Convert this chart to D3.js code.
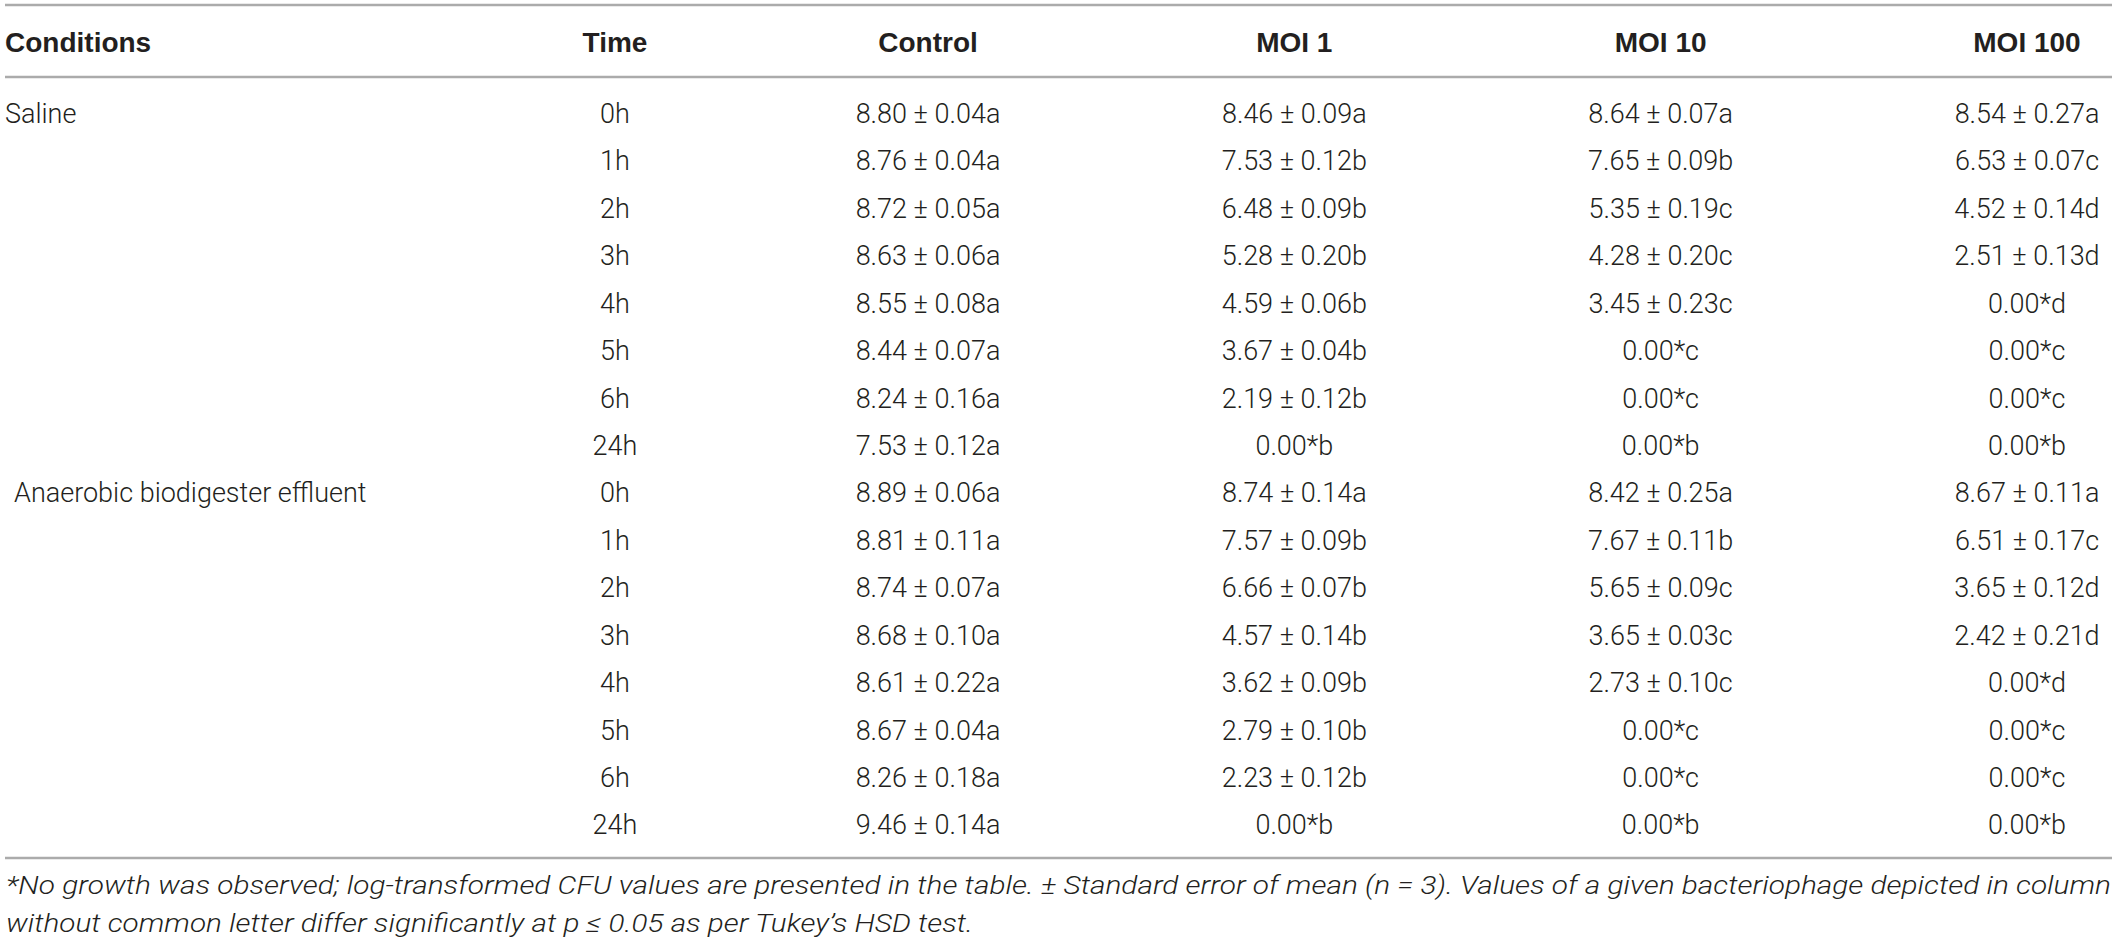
<!DOCTYPE html>
<html>
<head>
<meta charset="utf-8">
<script src="https://cdn.jsdelivr.net/npm/d3@7"></script>
<style>
  body { margin: 0; background: #fff; }
  text { fill: #231f20; }
</style>
</head>
<body>
<script>
// table content
var headers = ["Conditions", "Time", "Control", "MOI 1", "MOI 10", "MOI 100"];
var conditions = ["Saline", "Anaerobic biodigester effluent"];
var times = ["0h", "1h", "2h", "3h", "4h", "5h", "6h", "24h"];

// log CFU means, standard errors (null = no growth) and Tukey letters, saline rows then effluent rows
var controlMean = [8.80, 8.76, 8.72, 8.63, 8.55, 8.44, 8.24, 7.53, 8.89, 8.81, 8.74, 8.68, 8.61, 8.67, 8.26, 9.46];
var controlSE   = [0.04, 0.04, 0.05, 0.06, 0.08, 0.07, 0.16, 0.12, 0.06, 0.11, 0.07, 0.10, 0.22, 0.04, 0.18, 0.14];
var controlLetter = "aaaaaaaaaaaaaaaa";

var moi1Mean = [8.46, 7.53, 6.48, 5.28, 4.59, 3.67, 2.19, 0.00, 8.74, 7.57, 6.66, 4.57, 3.62, 2.79, 2.23, 0.00];
var moi1SE   = [0.09, 0.12, 0.09, 0.20, 0.06, 0.04, 0.12, null, 0.14, 0.09, 0.07, 0.14, 0.09, 0.10, 0.12, null];
var moi1Letter = "abbbbbbbabbbbbbb";

var moi10Mean = [8.64, 7.65, 5.35, 4.28, 3.45, 0.00, 0.00, 0.00, 8.42, 7.67, 5.65, 3.65, 2.73, 0.00, 0.00, 0.00];
var moi10SE   = [0.07, 0.09, 0.19, 0.20, 0.23, null, null, null, 0.25, 0.11, 0.09, 0.03, 0.10, null, null, null];
var moi10Letter = "abcccccbabcccccb";

var moi100Mean = [8.54, 6.53, 4.52, 2.51, 0.00, 0.00, 0.00, 0.00, 8.67, 6.51, 3.65, 2.42, 0.00, 0.00, 0.00, 0.00];
var moi100SE   = [0.27, 0.07, 0.14, 0.13, null, null, null, null, 0.11, 0.17, 0.12, 0.21, null, null, null, null];
var moi100Letter = "acdddccbacdddccb";

var footnotes = [
  "*No growth was observed; log-transformed CFU values are presented in the table. \u00b1 Standard error of mean (n = 3). Values of a given bacteriophage depicted in column",
  "without common letter differ significantly at p \u2264 0.05 as per Tukey\u2019s HSD test."
];

var width = 2117, height = 944;
var fontBody = "Roboto, 'Liberation Sans', sans-serif";
var fontHead = "'Liberation Sans', Arial, sans-serif";

var svg = d3.select("body")
    .append("svg")
    .attr("width", width)
    .attr("height", height)
    .style("display", "block");

var fmt = d3.format(".2f");
function cell(mean, se, letter) {
  return fmt(mean) + (se == null ? "*" : " \u00b1 " + fmt(se)) + letter;
}

var columns = [
  {mean: controlMean, se: controlSE, letter: controlLetter},
  {mean: moi1Mean, se: moi1SE, letter: moi1Letter},
  {mean: moi10Mean, se: moi10SE, letter: moi10Letter},
  {mean: moi100Mean, se: moi100SE, letter: moi100Letter}
];

var rows = [];
conditions.forEach(function(c, ci) {
  times.forEach(function(t, ti) {
    var i = ci * times.length + ti;
    rows.push({
      condition: ti === 0 ? c : "",
      indent: ci,
      time: t,
      cells: columns.map(function(col) { return cell(col.mean[i], col.se[i], col.letter[i]); })
    });
  });
});

// column and row positions
var x = d3.scalePoint()
    .domain(headers.slice(2))
    .range([928, 2027]);
var timeX = 615;

var y = d3.scalePoint()
    .domain(d3.range(rows.length))
    .range([113.5, 825]);

// rules
[5, 77, 858].forEach(function(ly) {
  svg.append("line")
      .attr("x1", 5)
      .attr("x2", 2112)
      .attr("y1", ly)
      .attr("y2", ly)
      .attr("stroke", "#ababab")
      .attr("stroke-width", 2.5);
});

// header
var head = svg.append("g")
    .attr("font-family", fontHead)
    .attr("font-weight", "bold")
    .attr("font-size", "28px");

head.append("text")
    .attr("x", 5)
    .attr("y", 42)
    .attr("dy", "0.35em")
    .text(headers[0]);

head.append("text")
    .attr("x", timeX)
    .attr("y", 42)
    .attr("dy", "0.35em")
    .attr("text-anchor", "middle")
    .text(headers[1]);

head.selectAll(".col")
    .data(headers.slice(2))
    .enter()
    .append("text")
    .attr("class", "col")
    .attr("x", function(d) { return x(d); })
    .attr("y", 42)
    .attr("dy", "0.35em")
    .attr("text-anchor", "middle")
    .text(function(d) { return d; });

// body
var body = svg.append("g")
    .attr("font-family", fontBody)
    .attr("font-weight", 300)
    .attr("font-size", "27px");

var row = body.selectAll(".row")
    .data(rows)
    .enter()
    .append("g")
    .attr("class", "row")
    .attr("transform", function(d, i) { return "translate(0," + y(i) + ")"; });

row.append("text")
    .attr("x", function(d) { return d.indent ? 14 : 5; })
    .attr("dy", "0.35em")
    .text(function(d) { return d.condition; });

row.append("text")
    .attr("x", timeX)
    .attr("dy", "0.35em")
    .attr("text-anchor", "middle")
    .text(function(d) { return d.time; });

row.selectAll(".val")
    .data(function(d) { return d.cells; })
    .enter()
    .append("text")
    .attr("class", "val")
    .attr("x", function(d, j) { return x(headers[j + 2]); })
    .attr("dy", "0.35em")
    .attr("text-anchor", "middle")
    .text(function(d) { return d; });

// footnote
svg.append("g")
    .attr("font-family", fontBody)
    .attr("font-weight", 300)
    .attr("font-style", "italic")
    .attr("font-size", "26px")
    .selectAll("text")
    .data(footnotes)
    .enter()
    .append("text")
    .attr("x", 6)
    .attr("y", function(d, i) { return 885 + i * 38; })
    .attr("dy", "0.35em")
    .attr("textLength", function(d, i) { return i === 0 ? 2105 : 967; })
    .attr("lengthAdjust", "spacingAndGlyphs")
    .text(function(d) { return d; });
</script>
</body>
</html>
